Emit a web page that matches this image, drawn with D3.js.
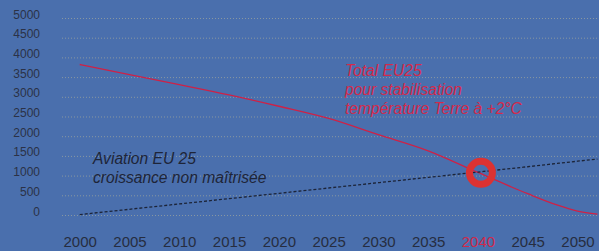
<!DOCTYPE html>
<html>
<head>
<meta charset="utf-8">
<script src="https://d3js.org/d3.v7.min.js"></script>
<style>
  body { margin: 0; background: #4a6fad; }
  svg { display: block; font-family: "Liberation Sans", Arial, sans-serif; }
</style>
</head>
<body>
<div id="chart"></div>
<script>
width = 599;
height = 251;

// data
var years = [2000, 2005, 2010, 2015, 2020, 2025, 2030, 2035, 2040, 2045, 2048, 2050, 2052];
var totalEU25 = [3820, 3560, 3310, 3050, 2760, 2450, 2040, 1630, 1080, 540, 250, 100, 20];
var aviationEU25 = [10, 145, 280, 415, 550, 685, 820, 955, 1090, 1225, 1310, 1365, 1420];
var yTicks = [0, 500, 1000, 1500, 2000, 2500, 3000, 3500, 4000, 4500, 5000];
var xTicks = [2000, 2005, 2010, 2015, 2020, 2025, 2030, 2035, 2040, 2045, 2050];
var highlightYear = 2040;
var crossing = [2040.3, 1070];

var x = d3.scaleLinear().domain([2000, 2050]).range([79.7, 577.5]);
var y = d3.scaleLinear().domain([0, 5000]).range([215, 18]);

var svg = d3.select("#chart")
    .append("svg")
    .attr("width", width)
    .attr("height", height);

svg.append("rect")
    .attr("width", width)
    .attr("height", height)
    .attr("fill", "#4a6fad");

// y axis with dotted gridlines
var gridLeft = 62;
var yAxis = d3.axisLeft(y)
    .tickValues(yTicks)
    .tickFormat(d3.format("d"))
    .tickSizeInner(-(width - gridLeft))
    .tickSizeOuter(0)
    .tickPadding(22);

svg.append("g")
    .attr("class", "axis")
    .attr("transform", "translate(" + gridLeft + ",0)")
    .call(yAxis);

svg.selectAll("g.axis .domain").remove();
svg.selectAll("g.axis g.tick line")
    .style("stroke", "#b3b29a")
    .style("stroke-opacity", 0.6)
    .style("stroke-dasharray", "1,2");
svg.selectAll("g.axis g.tick text")
    .attr("dy", "0")
    .style("font-size", "12px")
    .style("fill", "#2b3247");

// x axis labels
var xAxis = d3.axisBottom(x)
    .tickValues(xTicks)
    .tickFormat(d3.format("d"))
    .tickSize(0)
    .tickPadding(4);

svg.append("g")
    .attr("class", "xaxis")
    .attr("transform", "translate(0,232)")
    .call(xAxis);

svg.selectAll("g.xaxis .domain").remove();
svg.selectAll("g.xaxis g.tick text")
    .style("font-size", "15px")
    .style("fill", d => d == highlightYear ? "#d0284a" : "#262d40");

var line = d3.line()
    .x((d, i) => x(years[i]))
    .y(d => y(d))
    .curve(d3.curveMonotoneX);

// total EU25
svg.append("path")
    .attr("d", line(totalEU25))
    .attr("fill", "none")
    .attr("stroke", "#cf2146")
    .attr("stroke-width", 1.3);

// aviation EU25
svg.append("path")
    .attr("d", line(aviationEU25))
    .attr("fill", "none")
    .attr("stroke", "#1c2438")
    .attr("stroke-width", 1.3)
    .attr("stroke-dasharray", "3,2");

// crossing marker
svg.append("circle")
    .attr("cx", x(crossing[0]))
    .attr("cy", y(crossing[1]))
    .attr("r", 11.5)
    .attr("fill", "none")
    .attr("stroke", "#dc3232")
    .attr("stroke-width", 7);

// annotations
var redNote = svg.append("text")
    .attr("x", 345)
    .attr("y", 75.5)
    .style("font-size", "15.6px")
    .style("font-style", "italic")
    .style("fill", "#d42a4b");
["Total EU25", "pour stabilisation", "température Terre à +2°C"].forEach(function(t, i) {
    redNote.append("tspan").attr("x", 345).attr("dy", i == 0 ? 0 : 19).text(t);
});

var darkNote = svg.append("text")
    .attr("x", 93)
    .attr("y", 164)
    .style("font-size", "15.6px")
    .style("font-style", "italic")
    .style("fill", "#1e2538");
["Aviation EU 25", "croissance non maîtrisée"].forEach(function(t, i) {
    darkNote.append("tspan").attr("x", 93).attr("dy", i == 0 ? 0 : 18.5).text(t);
});
</script>
</body>
</html>
